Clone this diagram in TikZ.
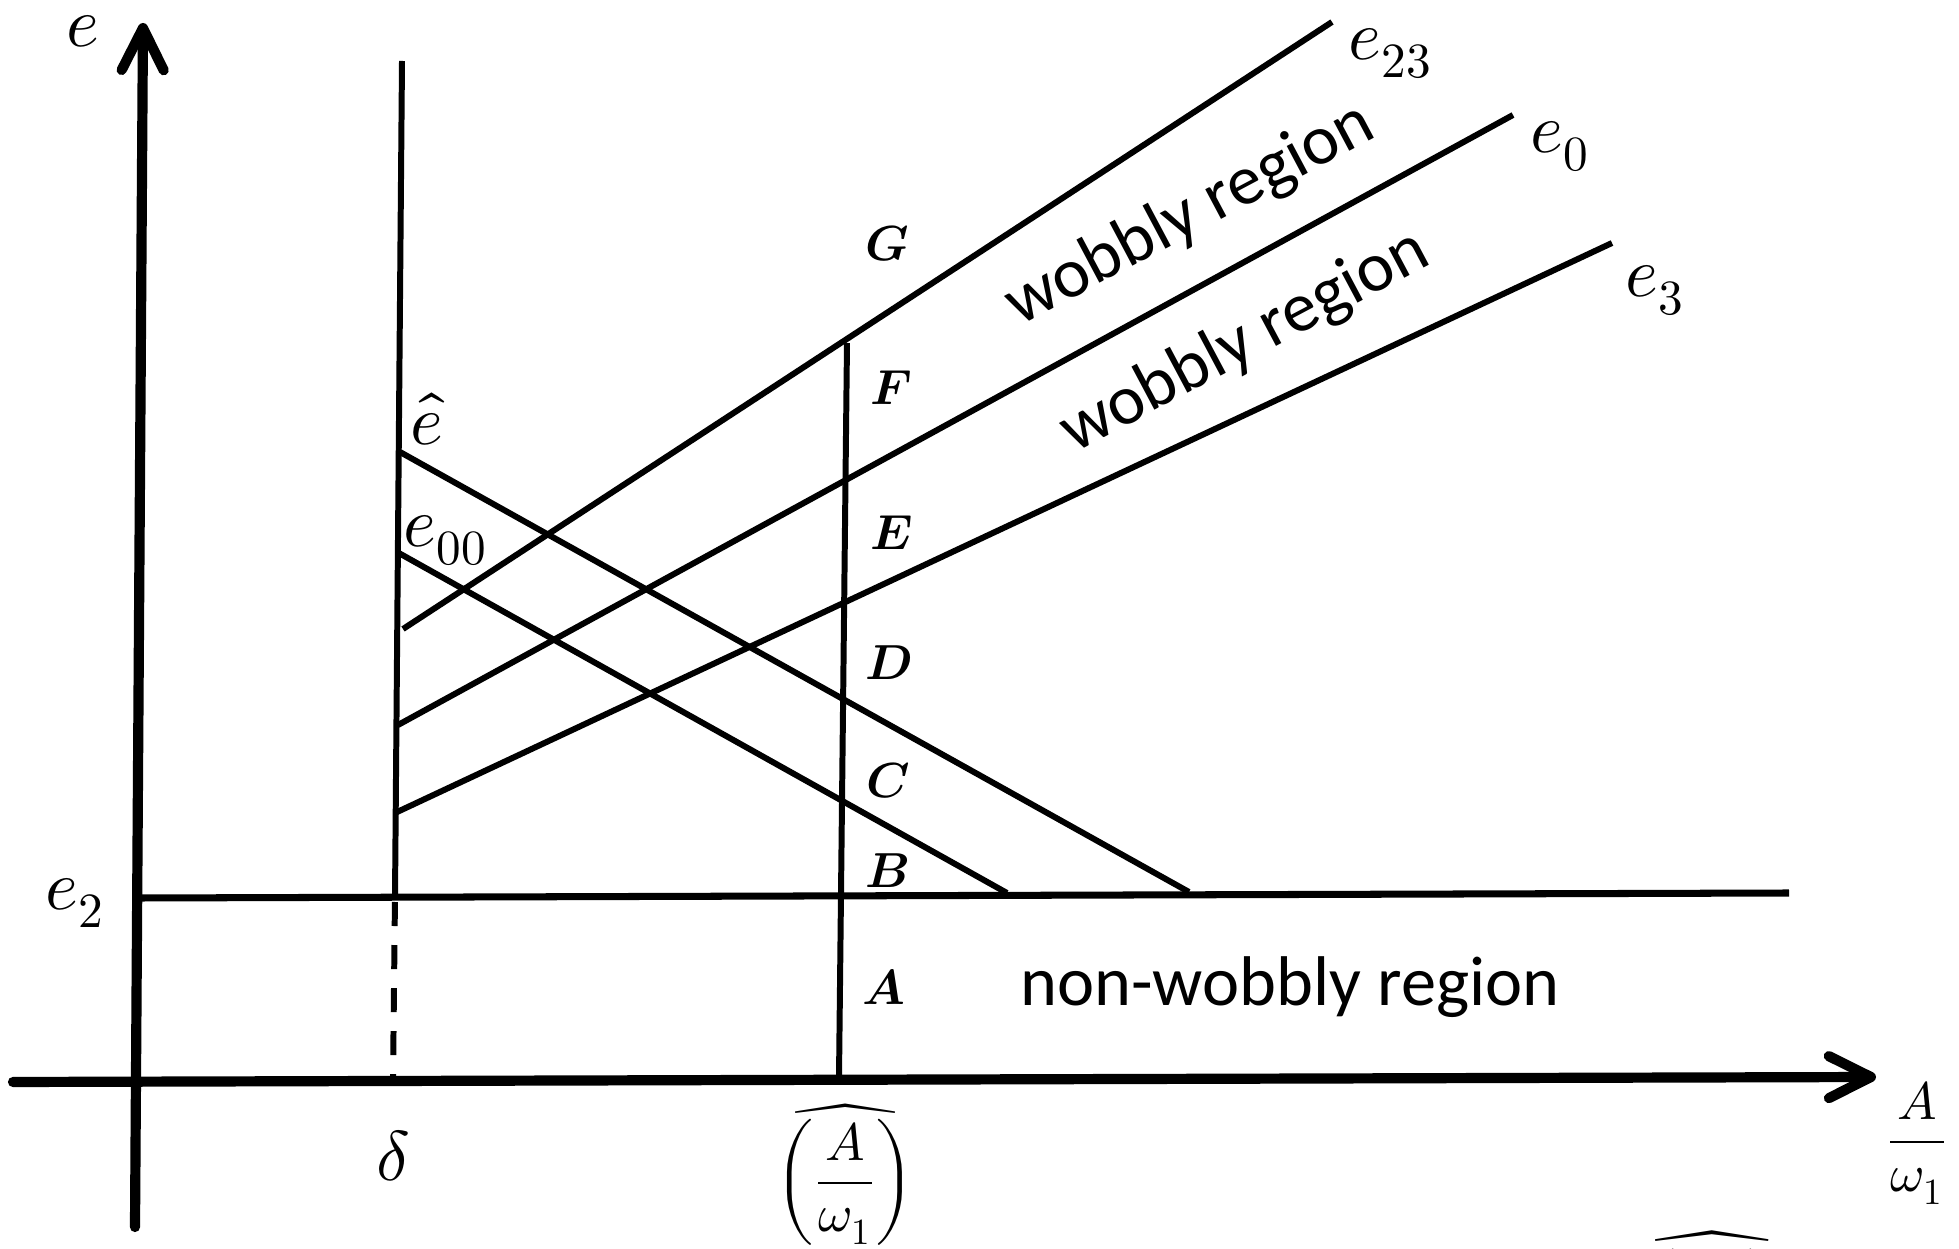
\documentclass[tikz,border=0pt]{standalone}
\usepackage{amsmath}
\usepackage{fontspec}
\usepackage{unicode-math}
\setmainfont{Carlito}
\setmathfont{Latin Modern Math}
\usetikzlibrary{arrows.meta,positioning}

\begin{document}
\begin{tikzpicture}[
  x=0.01cm, y=-0.01cm,
  font=\fontsize{20}{24}\selectfont,
  axisline/.style={line width=2.9pt, line cap=round,
    -{Straight Barb[length=4.2mm, width=4.2mm, line cap=round, line join=round]}},
  seg/.style={line width=1.7pt},
  mlbl/.style={inner sep=0pt},
  ptlbl/.style={inner sep=0pt, font=\fontsize{14}{16}\selectfont},
  reg/.style={inner sep=0pt, rotate=28},
  frac/.style={inner sep=0pt, font=\fontsize{15}{18}\selectfont},
]
\useasboundingbox (0,0) rectangle (1959,1249);

\coordinate (ybot) at (135,1227);
\coordinate (ytop) at (143,23);
\coordinate (xlft) at (13,1082);
\coordinate (xrgt) at (1876,1077);
\draw[axisline] (ybot) -- (ytop);
\draw[axisline] (xlft) -- (xrgt);

\coordinate (e2l) at (140,898);
\coordinate (e2r) at (1789,893);
\draw[seg, line width=2pt] (e2l) -- (e2r);

\coordinate (dtop) at (402,61);
\coordinate (dmid) at (395,897);
\coordinate (dbot) at (393,1079);
\draw[seg] (dtop) -- (dmid);
\draw[seg, dash pattern=on 0.24cm off 0.19cm, dash phase=0.38cm] (dmid) -- (dbot);

\coordinate (atop) at (847,343);
\coordinate (abot) at (839,1078);
\draw[seg] (atop) -- (abot);

\coordinate (e23a) at (403,629);
\coordinate (e23b) at (1332,22);
\coordinate (e0a) at (398,725);
\coordinate (e0b) at (1513,115);
\coordinate (e3a) at (395,813);
\coordinate (e3b) at (1612,243);
\coordinate (eha) at (400,452);
\coordinate (ehb) at (1189,892);
\coordinate (e00a) at (397,552);
\coordinate (e00b) at (1007,893);
\draw[seg] (e23a) -- (e23b);
\draw[seg] (e0a) -- (e0b);
\draw[seg] (e3a) -- (e3b);
\draw[seg] (eha) -- (ehb);
\draw[seg] (e00a) -- (e00b);

\node[mlbl, anchor=base west] (le) at (66,47) {$e$};
\node[mlbl, anchor=base west] (le23) at (1348,60) {$e_{23}$};
\node[mlbl, anchor=base west] (le0) at (1530,153) {$e_0$};
\node[mlbl, anchor=base west] (le3) at (1625,297) {$e_3$};
\node[mlbl, anchor=base west] (le2) at (45,910) {$e_2$};
\node[mlbl, anchor=base west] (lehat) at (410,445) {$\hat{e}$};
\node[mlbl, anchor=base west] (le00) at (403,547) {$e_{00}$};
\node[mlbl, below=0.51cm of dbot] (ldelta) {$\delta$};
\node[frac, below=0.25cm of abot, xshift=0.06cm] (lahat) {$\widehat{\left(\dfrac{A}{\omega_1}\right)}$};
\node[frac] (laxis) at (1917,1143) {$\dfrac{A}{\omega_1}$};
\node[frac, anchor=north, font=\fontsize{17}{20}\selectfont] (lfoot) at (1712,1230) {$\widehat{\left(\dfrac{A}{\omega_1}\right)}$};

\node[ptlbl] (pG) at (887,244) {$\symbfit{G}$};
\node[ptlbl] (pF) at (891,388) {$\symbfit{F}$};
\node[ptlbl] (pE) at (891,533) {$\symbfit{E}$};
\node[ptlbl] (pD) at (889,663) {$\symbfit{D}$};
\node[ptlbl] (pC) at (888,781) {$\symbfit{C}$};
\node[ptlbl] (pB) at (887,871) {$\symbfit{B}$};
\node[ptlbl] (pA) at (884,987) {$\symbfit{A}$};

\node[reg] (wob1) at (1190,215) {wobbly region};
\node[reg] (wob2) at (1245,342) {wobbly region};
\node[mlbl] (nonwob) at (1290,987) {non-wobbly region};
\end{tikzpicture}
\end{document}
